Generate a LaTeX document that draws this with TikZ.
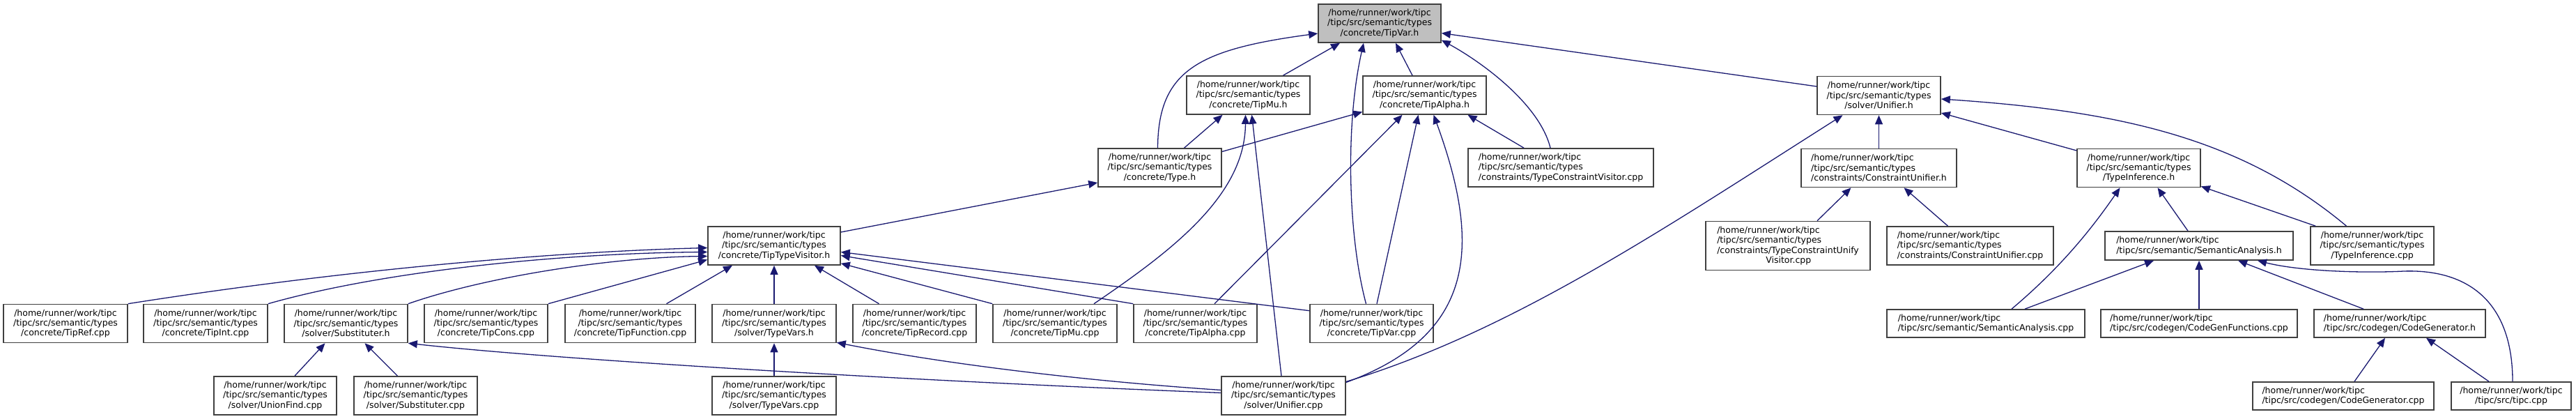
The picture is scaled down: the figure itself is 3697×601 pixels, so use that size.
\documentclass[tikz,border=0pt]{standalone}
\usepackage{fontspec}
\setmainfont{DejaVu Sans}
\usepackage{tikz}
\usetikzlibrary{arrows.meta,positioning}
\definecolor{inclblue}{HTML}{191970}
\definecolor{boxgray}{HTML}{404040}
\tikzstyle{filebox} = [draw=boxgray,line width=1.6pt,fill=white,inner sep=0pt,minimum height=55pt,font=\fontsize{12.5}{14.3}\selectfont,align=center]
\tikzstyle{incl} = [draw=inclblue,line width=1.3pt,-{Triangle[length=13pt,width=11pt]}]

\begin{document}
\begin{tikzpicture}[x=1pt,y=1pt]
	\useasboundingbox (0,0) rectangle (3697,601);

	%% the header itself
	\node[filebox,fill=black!25,minimum width=176pt] (varh) at (1980,567.5) {/home/runner/work/tipc\\/tipc/src/semantic/types\\/concrete/TipVar.h};

	%% headers including it
	\node[filebox,minimum width=177pt] (muh) at (1791.5,464.5) {/home/runner/work/tipc\\/tipc/src/semantic/types\\/concrete/TipMu.h};
	\node[filebox,minimum width=177pt] (alphah) at (2044.5,464.5) {/home/runner/work/tipc\\/tipc/src/semantic/types\\/concrete/TipAlpha.h};
	\node[filebox,minimum width=177pt] (unifierh) at (2696.5,464) {/home/runner/work/tipc\\/tipc/src/semantic/types\\/solver/Unifier.h};
	\node[filebox,minimum width=177pt] (typeh) at (1664.5,360.5) {/home/runner/work/tipc\\/tipc/src/semantic/types\\/concrete/Type.h};
	\node[filebox,align=left,minimum width=266pt] (tcvisitor) at (2240,360.5) {/home/runner/work/tipc\\/tipc/src/semantic/types\\/constraints/TypeConstraintVisitor.cpp};
	\node[filebox,align=left,minimum width=223pt] (cunifierh) at (2696.5,360) {/home/runner/work/tipc\\/tipc/src/semantic/types\\/constraints/ConstraintUnifier.h};
	\node[filebox,minimum width=177pt] (tinferh) at (3069.5,360) {/home/runner/work/tipc\\/tipc/src/semantic/types\\/TypeInference.h};

	%% middle row
	\node[filebox,minimum width=190pt] (visitorh) at (1111,248.5) {/home/runner/work/tipc\\/tipc/src/semantic/types\\/concrete/TipTypeVisitor.h};
	\node[filebox,align=left,minimum width=236pt,minimum height=70pt] (tcuvisitor) at (2566,248.5) {/home/runner/work/tipc\\/tipc/src/semantic/types\\/constraints/TypeConstraintUnify\\\hspace*{70pt}Visitor.cpp};
	\node[filebox,align=left,minimum width=239pt] (cunifiercpp) at (2827.5,248.5) {/home/runner/work/tipc\\/tipc/src/semantic/types\\/constraints/ConstraintUnifier.cpp};
	\node[filebox,align=left,minimum width=270pt,minimum height=41pt] (semah) at (3156,248.5) {/home/runner/work/tipc\\/tipc/src/semantic/SemanticAnalysis.h};
	\node[filebox,minimum width=177pt] (tinfercpp) at (3404.5,248.5) {/home/runner/work/tipc\\/tipc/src/semantic/types\\/TypeInference.cpp};

	%% row of sources
	\node[filebox,minimum width=178pt] (refcpp) at (94,137) {/home/runner/work/tipc\\/tipc/src/semantic/types\\/concrete/TipRef.cpp};
	\node[filebox,minimum width=178pt] (intcpp) at (295,137) {/home/runner/work/tipc\\/tipc/src/semantic/types\\/concrete/TipInt.cpp};
	\node[filebox,minimum width=177pt] (substh) at (496.5,137) {/home/runner/work/tipc\\/tipc/src/semantic/types\\/solver/Substituter.h};
	\node[filebox,minimum width=177pt] (conscpp) at (697.5,137) {/home/runner/work/tipc\\/tipc/src/semantic/types\\/concrete/TipCons.cpp};
	\node[filebox,minimum width=187pt] (funcpp) at (904.5,137) {/home/runner/work/tipc\\/tipc/src/semantic/types\\/concrete/TipFunction.cpp};
	\node[filebox,minimum width=178pt] (tvarsh) at (1111,137) {/home/runner/work/tipc\\/tipc/src/semantic/types\\/solver/TypeVars.h};
	\node[filebox,minimum width=177pt] (reccpp) at (1312.5,137) {/home/runner/work/tipc\\/tipc/src/semantic/types\\/concrete/TipRecord.cpp};
	\node[filebox,minimum width=178pt] (mucpp) at (1514,137) {/home/runner/work/tipc\\/tipc/src/semantic/types\\/concrete/TipMu.cpp};
	\node[filebox,minimum width=177pt] (alphacpp) at (1715.5,137) {/home/runner/work/tipc\\/tipc/src/semantic/types\\/concrete/TipAlpha.cpp};
	\node[filebox,minimum width=177pt] (varcpp) at (1968.5,137) {/home/runner/work/tipc\\/tipc/src/semantic/types\\/concrete/TipVar.cpp};
	\node[filebox,align=left,minimum width=284pt,minimum height=40pt] (semacpp) at (2850,137) {/home/runner/work/tipc\\/tipc/src/semantic/SemanticAnalysis.cpp};
	\node[filebox,align=left,minimum width=282pt,minimum height=40pt] (cgfuncs) at (3156,137) {/home/runner/work/tipc\\/tipc/src/codegen/CodeGenFunctions.cpp};
	\node[filebox,align=left,minimum width=246pt,minimum height=40pt] (cgh) at (3444,137) {/home/runner/work/tipc\\/tipc/src/codegen/CodeGenerator.h};

	%% bottom row
	\node[filebox,minimum width=176pt] (unionfind) at (395,33.5) {/home/runner/work/tipc\\/tipc/src/semantic/types\\/solver/UnionFind.cpp};
	\node[filebox,minimum width=177pt] (substcpp) at (596.5,33.5) {/home/runner/work/tipc\\/tipc/src/semantic/types\\/solver/Substituter.cpp};
	\node[filebox,minimum width=178pt] (tvarscpp) at (1111,33.5) {/home/runner/work/tipc\\/tipc/src/semantic/types\\/solver/TypeVars.cpp};
	\node[filebox,minimum width=178pt] (unifiercpp) at (1842,33.5) {/home/runner/work/tipc\\/tipc/src/semantic/types\\/solver/Unifier.cpp};
	\node[filebox,align=left,minimum width=260pt,minimum height=40pt] (cgcpp) at (3363,33) {/home/runner/work/tipc\\/tipc/src/codegen/CodeGenerator.cpp};
	\node[filebox,minimum width=172pt,minimum height=40pt] (tipccpp) at (3604,33) {/home/runner/work/tipc\\/tipc/src/tipc.cpp};

	%% edges into TipVar.h
	\draw[incl] ([xshift=-3pt]typeh.north) .. controls (1662,500) and (1720,530) .. ([yshift=-14.5pt]varh.west);
	\draw[incl] ([xshift=50pt]muh.north) -- ([xshift=-57pt]varh.south);
	\draw[incl] ([xshift=-8pt]varcpp.north) .. controls (1935,260) and (1930,420) .. ([xshift=-23pt]varh.south);
	\draw[incl] ([xshift=-17.5pt]alphah.north) -- ([xshift=23pt]varh.south);
	\draw[incl] ([xshift=-15pt]tcvisitor.north) .. controls (2210,450) and (2130,510) .. ([yshift=-24pt]varh.east);
	\draw[incl] ([yshift=13pt]unifierh.west) -- ([yshift=-14pt]varh.east);

	%% edges into TipMu.h and TipAlpha.h
	\draw[incl] ([xshift=35pt]typeh.north) -- ([xshift=-37pt]muh.south);
	\draw[incl] ([xshift=56pt]mucpp.north) .. controls (1680,240) and (1787,320) .. ([xshift=-4pt]muh.south);
	\draw[incl] ([xshift=-3pt]unifiercpp.north) -- ([xshift=5pt]muh.south);
	\draw[incl] ([yshift=23pt]typeh.east) -- ([yshift=-24pt]alphah.west);
	\draw[incl] ([xshift=27.5pt]alphacpp.north) -- ([xshift=-32pt]alphah.south);
	\draw[incl] ([xshift=7.5pt]varcpp.north) -- ([xshift=-9pt]alphah.south);
	\draw[incl] ([yshift=19pt]unifiercpp.east) .. controls (2119,121) and (2126,249) .. ([xshift=13pt]alphah.south);
	\draw[incl] ([xshift=-53pt]tcvisitor.north) -- ([xshift=62pt]alphah.south);

	%% edges into Type.h and TipTypeVisitor.h
	\draw[incl] ([yshift=19.5pt]visitorh.east) -- ([yshift=-21.5pt]typeh.west);
	\draw[incl] (refcpp.north east) .. controls (500,215) and (800,240) .. ([yshift=-3pt]visitorh.west);
	\draw[incl] (intcpp.north east) .. controls (560,215) and (820,238) .. ([yshift=-9pt]visitorh.west);
	\draw[incl] (substh.north east) .. controls (700,205) and (880,232) .. ([yshift=-15pt]visitorh.west);
	\draw[incl] (conscpp.north east) -- ([yshift=-20pt]visitorh.west);
	\draw[incl] ([xshift=52pt]funcpp.north) -- ([xshift=-60pt]visitorh.south);
	\draw[incl] (tvarsh.north) -- (visitorh.south);
	\draw[incl] ([xshift=-51pt]reccpp.north) -- ([xshift=58pt]visitorh.south);
	\draw[incl] (mucpp.north west) -- ([yshift=3pt]visitorh.south east);
	\draw[incl] (alphacpp.north west) -- ([yshift=-14pt]visitorh.east);
	\draw[incl] ([yshift=-10pt]varcpp.north west) -- ([yshift=-9pt]visitorh.east);

	%% edges into Substituter.h and TypeVars.h
	\draw[incl] ([xshift=28pt]unionfind.north) -- ([xshift=-30pt]substh.south);
	\draw[incl] ([xshift=-26pt]substcpp.north) -- ([xshift=27pt]substh.south);
	\draw[incl] ([yshift=4pt]unifiercpp.west) .. controls (1300,55) and (800,85) .. (substh.south east);
	\draw[incl] (tvarscpp.north) -- (tvarsh.south);
	\draw[incl] ([yshift=8pt]unifiercpp.west) .. controls (1550,55) and (1350,80) .. ([yshift=1pt]tvarsh.south east);

	%% edges into Unifier.h and ConstraintUnifier.h
	\draw[incl] ([yshift=20pt]unifiercpp.east) .. controls (2171,126) and (2391,275) .. ([xshift=-52pt]unifierh.south);
	\draw[incl] (cunifierh.north) -- (unifierh.south);
	\draw[incl] ([yshift=25pt]tinferh.west) -- ([yshift=-25pt]unifierh.east);
	\draw[incl] ([xshift=-37pt]tinfercpp.north) .. controls (3214,405) and (3037,442) .. ([yshift=-5pt]unifierh.east);
	\draw[incl] ([xshift=42pt]tcuvisitor.north) -- ([xshift=-40pt]cunifierh.south);
	\draw[incl] ([xshift=-32pt]cunifiercpp.north) -- ([xshift=36pt]cunifierh.south);

	%% edges into TypeInference.h and SemanticAnalysis.h
	\draw[incl] ([xshift=37pt]semacpp.north) .. controls (2955,215) and (3000,270) .. ([xshift=-27pt]tinferh.south);
	\draw[incl] ([xshift=-16pt]semah.north) -- ([xshift=27pt]tinferh.south);
	\draw[incl] ([xshift=8pt]tinfercpp.north west) -- ([yshift=2pt]tinferh.south east);
	\draw[incl] ([xshift=56pt]semacpp.north) -- ([xshift=-65pt]semah.south);
	\draw[incl] (cgfuncs.north) -- (semah.south);
	\draw[incl] ([xshift=-52pt]cgh.north) -- ([xshift=56pt]semah.south);
	\draw[incl] ([xshift=2pt]tipccpp.north) .. controls (3606,170) and (3540,215) .. (3450,212) .. controls (3390,209) and (3300,212) .. ([xshift=84pt]semah.south);

	%% edges into CodeGenerator.h
	\draw[incl] ([xshift=16pt]cgcpp.north) -- ([xshift=-21pt]cgh.south);
	\draw[incl] ([xshift=-32pt]tipccpp.north) -- ([xshift=38pt]cgh.south);
\end{tikzpicture}
\end{document}
